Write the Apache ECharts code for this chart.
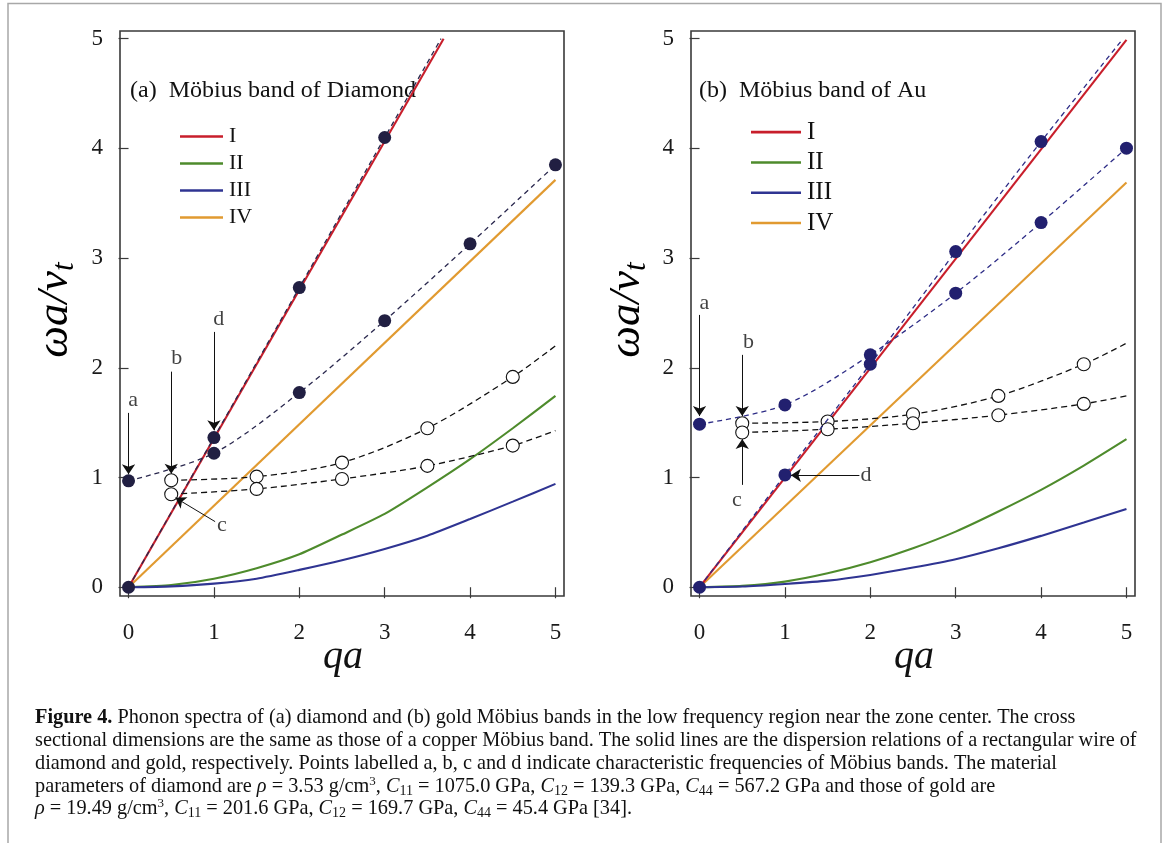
<!DOCTYPE html>
<html><head><meta charset="utf-8">
<script src="https://cdn.jsdelivr.net/npm/echarts@6/dist/echarts.min.js"></script>
<style>html,body{margin:0;padding:0;background:#fff;}#c{width:1170px;height:843px;}</style>
</head><body><div id="c"></div>
<script>
// ---------- data ----------
const tickValues = [0, 1, 2, 3, 4, 5];
const branchNames = ['I', 'II', 'III', 'IV'];

// (a) Möbius band of Diamond
const diaI   = [[0, 0], [3.69, 5.0]];
const diaII  = [[0, 0], [0.5, 0.02], [1, 0.078], [1.5, 0.173], [2, 0.30], [2.5, 0.48], [3, 0.668], [3.5, 0.91], [4, 1.167], [4.5, 1.449], [5, 1.744]];
const diaIII = [[0, 0], [0.5, 0.008], [1, 0.033], [1.5, 0.078], [2, 0.158], [2.5, 0.246], [3, 0.349], [3.5, 0.47], [4, 0.622], [4.5, 0.78], [5, 0.942]];
const diaIV  = [[0, 0], [5, 3.713]];
const diaFilledUpper = [[0, 0], [1, 1.364], [2, 2.731], [3, 4.099], [3.66, 5.0]];
const diaFilledLower = [[0, 0.97], [1, 1.221], [2, 1.774], [3, 2.43], [4, 3.13], [5, 3.85]];
const diaOpenUpper = [[0.5, 0.975], [1.5, 1.008], [2.5, 1.136], [3.5, 1.449], [4.5, 1.917], [5, 2.20]];
const diaOpenLower = [[0.5, 0.848], [1.5, 0.896], [2.5, 0.987], [3.5, 1.106], [4.5, 1.291], [5, 1.428]];

// (b) Möbius band of Au
const auI   = [[0, 0], [5, 4.99]];
const auII  = [[0, 0], [0.5, 0.012], [1, 0.051], [1.5, 0.127], [2, 0.228], [2.5, 0.355], [3, 0.507], [3.5, 0.69], [4, 0.887], [4.5, 1.108], [5, 1.349]];
const auIII = [[0, 0], [0.5, 0.006], [1, 0.03], [1.5, 0.06], [2, 0.112], [2.5, 0.179], [3, 0.255], [3.5, 0.355], [4, 0.468], [4.5, 0.589], [5, 0.714]];
const auIV  = [[0, 0], [5, 3.69]];
const auFilledUpper = [[0, 0], [1, 1.024], [2, 2.033], [3, 3.059], [4, 4.062], [4.96, 5.0]];
const auFilledLower = [[0, 1.486], [1, 1.662], [2, 2.118], [3, 2.68], [4, 3.324], [5, 4.002]];
const auOpenUpper = [[0.5, 1.495], [1.5, 1.51], [2.5, 1.577], [3.5, 1.744], [4.5, 2.033], [5, 2.224]];
const auOpenLower = [[0.5, 1.41], [1.5, 1.44], [2.5, 1.495], [3.5, 1.568], [4.5, 1.671], [5, 1.744]];

// annotation letters and arrows (data coordinates)
const diaNoteText = ['a', 'b', 'c', 'd'];
const diaNoteAt = [[0.055, 1.707], [0.566, 2.09], [1.092, 0.562], [1.057, 2.446]];
const diaArrowFrom = [[0, 1.589], [0.5, 1.965], [1.014, 0.598], [1, 2.327]];
const diaArrowTo   = [[0, 1.03], [0.5, 1.035], [0.55, 0.815], [1, 1.43]];
const auNoteText = ['a', 'b', 'c', 'd'];
const auNoteAt = [[0.058, 2.589], [0.573, 2.23], [0.4375, 0.796], [1.95, 1.017]];
const auArrowFrom = [[0, 2.482], [0.5, 2.118], [0.5, 0.933], [1.872, 1.02]];
const auArrowTo   = [[0, 1.56], [0.5, 1.56], [0.5, 1.35], [1.07, 1.02]];

// ---------- styling ----------
const FONT = '"Liberation Serif", "Times New Roman", serif';
const COL = { I: '#c81e2b', II: '#4e8b2c', III: '#2f3492', IV: '#e19a30' };
const AXC = '#3a3a3a';

function solid(name, data, gi) {
  return { type: 'line', name, data, xAxisIndex: gi, yAxisIndex: gi, symbol: 'none', smooth: 0.2,
    color: COL[name], lineStyle: { color: COL[name], width: 2.1 }, z: 2, silent: true };
}
function filledDashed(data, gi, color, lineColor, lastIsMarker) {
  const d = data.map((p, k) => (k === data.length - 1 && !lastIsMarker) ? { value: p, symbol: 'none' } : { value: p });
  return { type: 'line', data: d, xAxisIndex: gi, yAxisIndex: gi, smooth: 0.3,
    symbol: 'circle', symbolSize: 13, showAllSymbol: true,
    itemStyle: { color: color, borderWidth: 0 },
    lineStyle: { color: lineColor, width: 1.3, type: [5, 4] }, z: 4, silent: true };
}
function openDashed(data, gi) {
  const d = data.map((p, k) => (k === data.length - 1) ? { value: p, symbol: 'none' } : { value: p });
  return { type: 'line', data: d, xAxisIndex: gi, yAxisIndex: gi, smooth: 0.3,
    symbol: 'circle', symbolSize: 13, showAllSymbol: true,
    itemStyle: { color: '#fff', borderColor: '#111', borderWidth: 1.1 },
    lineStyle: { color: '#111', width: 1.3, type: [6, 4] }, z: 3, silent: true };
}
function arrows(from, to, gi) {
  return { type: 'lines', coordinateSystem: 'cartesian2d', xAxisIndex: gi, yAxisIndex: gi,
    data: from.map((f, k) => ({ coords: [f, to[k]] })),
    symbol: ['none', 'arrow'], symbolSize: [0, 10],
    lineStyle: { color: '#111', width: 1, opacity: 1, curveness: 0 }, z: 6, silent: true };
}
function notes(text, at, gi) {
  return { type: 'scatter', xAxisIndex: gi, yAxisIndex: gi, symbolSize: 0.1,
    itemStyle: { color: 'rgba(0,0,0,0)' },
    data: at.map((p, k) => [p[0], p[1], text[k]]),
    label: { show: true, position: 'inside', formatter: p => p.data[2],
      fontFamily: FONT, fontSize: 22, color: '#111' }, z: 7, silent: true };
}

const grids = [
  { left: 120, top: 31, width: 444, height: 565 },
  { left: 691, top: 31, width: 444, height: 565 }
].map(g => Object.assign(g, { show: true, borderColor: AXC, borderWidth: 1.6, backgroundColor: 'transparent' }));

const xAxes = [0, 1].map(gi => ({
  gridIndex: gi, type: 'value', min: -0.1, max: 5.1,
  axisLine: { show: false }, splitLine: { show: false },
  axisTick: { show: true, inside: false, length: 11, customValues: tickValues, lineStyle: { color: AXC, width: 1.2 } },
  axisLabel: { customValues: tickValues, margin: 25, fontFamily: FONT, fontSize: 23, color: '#1a1a1a' }
}));
const yAxes = [0, 1].map(gi => ({
  gridIndex: gi, type: 'value', min: -0.08, max: 5.07,
  axisLine: { show: false }, splitLine: { show: false },
  axisTick: { show: true, inside: false, length: 10, customValues: tickValues, lineStyle: { color: AXC, width: 1.2 } },
  axisLabel: { customValues: tickValues, margin: 17, fontFamily: FONT, fontSize: 23, color: '#1a1a1a' }
}));

const series = [
  solid('II', diaII, 0), solid('III', diaIII, 0), solid('IV', diaIV, 0), solid('I', diaI, 0),
  openDashed(diaOpenUpper, 0), openDashed(diaOpenLower, 0),
  filledDashed(diaFilledUpper, 0, '#211f42', '#2a284e', false), filledDashed(diaFilledLower, 0, '#211f42', '#2a284e', true),
  arrows(diaArrowFrom, diaArrowTo, 0), notes(diaNoteText, diaNoteAt, 0),

  solid('II', auII, 1), solid('III', auIII, 1), solid('IV', auIV, 1), solid('I', auI, 1),
  openDashed(auOpenUpper, 1), openDashed(auOpenLower, 1),
  filledDashed(auFilledUpper, 1, '#22206f', '#2d2c86', false), filledDashed(auFilledLower, 1, '#22206f', '#2d2c86', true),
  arrows(auArrowFrom, auArrowTo, 1), notes(auNoteText, auNoteAt, 1)
];

const legends = [
  { left: 175, top: 118, lineH: 27, size: 22, w: 43 },
  { left: 746, top: 112, lineH: 30.3, size: 25, w: 50 }
].map(l => ({
  left: l.left, top: l.top, orient: 'vertical', icon: 'rect', itemWidth: l.w, itemHeight: 2.6,
  itemGap: 0, selectedMode: false, data: branchNames,
  textStyle: { fontFamily: FONT, fontSize: l.size, lineHeight: l.lineH, color: '#111', padding: [0, 0, 0, 1] }
}));

const yName = { text: '{m|ωa/v}{s|t}', rich: {
  m: { fontFamily: FONT, fontStyle: 'italic', fontSize: 45, color: '#111', lineHeight: 50 },
  s: { fontFamily: FONT, fontStyle: 'italic', fontSize: 31, color: '#111', lineHeight: 50, verticalAlign: 'bottom', padding: [12, 0, 0, 0] }
}, align: 'center', verticalAlign: 'middle' };

const CAP = 20.3;
const capRich = {
  b: { fontFamily: FONT, fontWeight: 'bold', fontSize: CAP, color: '#111' },
  i: { fontFamily: FONT, fontStyle: 'italic', fontSize: CAP, color: '#111' },
  sub: { fontFamily: FONT, fontSize: 14, color: '#111', verticalAlign: 'bottom', padding: [8, 0, 0, 0] },
  sup: { fontFamily: FONT, fontSize: 13, color: '#111', verticalAlign: 'top', padding: [0, 0, 10, 0] },
  ref: { fontFamily: FONT, fontSize: CAP, color: '#1f8fd0' }
};
const captionLines = [
  '{b|Figure 4.} Phonon spectra of (a) diamond and (b) gold Möbius bands in the low frequency region near the zone center. The cross',
  'sectional dimensions are the same as those of a copper Möbius band. The solid lines are the dispersion relations of a rectangular wire of',
  'diamond and gold, respectively. Points labelled a, b, c and d indicate characteristic frequencies of Möbius bands. The material',
  'parameters of diamond are {i|ρ} = 3.53 g/cm{sup|3}, {i|C}{sub|11} = 1075.0 GPa, {i|C}{sub|12} = 139.3 GPa, {i|C}{sub|44} = 567.2 GPa and those of gold are',
  '{i|ρ} = 19.49 g/cm{sup|3}, {i|C}{sub|11} = 201.6 GPa, {i|C}{sub|12} = 169.7 GPa, {i|C}{sub|44} = 45.4 GPa [{ref|34}].'
];
const captionY = [718, 741, 764, 787, 809];

const graphic = [
  { type: 'polyline', shape: { points: [[8, 843], [8, 3.5], [1161, 3.5], [1161, 843]] }, style: { stroke: '#a8a8a8', lineWidth: 1.5, fill: null }, silent: true },
  { type: 'text', x: 130, y: 91, style: { text: '(a)  Möbius band of Diamond', fontFamily: FONT, fontSize: 24, fill: '#111', verticalAlign: 'middle' } },
  { type: 'text', x: 699, y: 91, style: { text: '(b)  Möbius band of Au', fontFamily: FONT, fontSize: 24, fill: '#111', verticalAlign: 'middle' } },
  { type: 'text', x: 55, y: 310, rotation: Math.PI / 2, style: Object.assign({}, yName) },
  { type: 'text', x: 627, y: 310, rotation: Math.PI / 2, style: Object.assign({}, yName) },
  { type: 'text', x: 343, y: 657, style: { text: 'qa', fontFamily: FONT, fontStyle: 'italic', fontSize: 40, fill: '#111', align: 'center', verticalAlign: 'middle' } },
  { type: 'text', x: 914, y: 657, style: { text: 'qa', fontFamily: FONT, fontStyle: 'italic', fontSize: 40, fill: '#111', align: 'center', verticalAlign: 'middle' } }
].concat(captionLines.map((t, k) => ({
  type: 'text', x: 35, y: captionY[k],
  style: { text: t, rich: capRich, fontFamily: FONT, fontSize: CAP, fill: '#111', verticalAlign: 'middle' }
})));

const chart = echarts.init(document.getElementById('c'), null, { renderer: 'canvas' });
chart.setOption({
  animation: false, backgroundColor: '#fff',
  grid: grids, xAxis: xAxes, yAxis: yAxes, legend: legends, series, graphic
});
</script></body></html>
